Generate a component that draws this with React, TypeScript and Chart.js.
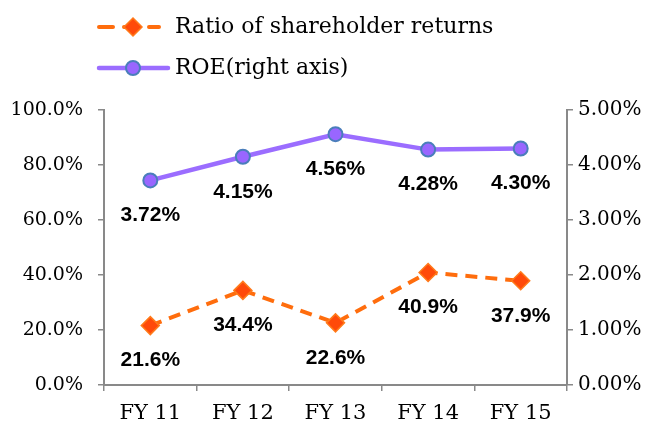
import React, { useEffect, useRef } from "react";
import { Chart, registerables } from "chart.js";

Chart.register(...registerables);

const categories = ["FY 11", "FY 12", "FY 13", "FY 14", "FY 15"];
const shareholderReturns = [21.6, 34.4, 22.6, 40.9, 37.9];
const roe = [3.72, 4.15, 4.56, 4.28, 4.3];
const seriesNames = ["Ratio of shareholder returns", "ROE(right axis)"];

const GRAY = "#898989";
const SERIF = "'DejaVu Serif', serif";

const legendPlugin = {
  id: "customLegend",
  afterDraw(chart: any) {
    const ctx = chart.ctx;
    const rows = [27, 68];
    chart.data.datasets.forEach((ds: any, i: number) => {
      const y = rows[i];
      ctx.save();
      ctx.strokeStyle = ds.borderColor;
      ctx.lineWidth = ds.borderWidth;
      ctx.lineCap = "round";
      if (ds.borderDash) ctx.setLineDash([14, 11]);
      ctx.beginPath();
      ctx.moveTo(99, y);
      ctx.lineTo(i === 0 ? 159 : 168, y);
      ctx.stroke();
      ctx.setLineDash([]);
      ctx.fillStyle = ds.pointBackgroundColor;
      ctx.strokeStyle = ds.pointBorderColor;
      ctx.lineWidth = ds.pointBorderWidth;
      const cx = 133;
      const r = ds.pointRadius;
      ctx.beginPath();
      if (ds.pointStyle === "rectRot") {
        ctx.moveTo(cx, y - r);
        ctx.lineTo(cx + r, y);
        ctx.lineTo(cx, y + r);
        ctx.lineTo(cx - r, y);
        ctx.closePath();
      } else {
        ctx.arc(cx, y, r, 0, Math.PI * 2);
      }
      ctx.fill();
      ctx.stroke();
      ctx.fillStyle = "#000";
      ctx.font = "22px " + SERIF;
      ctx.textBaseline = "middle";
      ctx.textAlign = "left";
      ctx.fillText(ds.label, 175, y);
      ctx.restore();
    });
  },
};

const dataLabelPlugin = {
  id: "dataLabels",
  afterDatasetsDraw(chart: any) {
    const ctx = chart.ctx;
    ctx.save();
    ctx.font = "bold 21px 'Liberation Sans', Arial, sans-serif";
    ctx.fillStyle = "#000";
    ctx.textAlign = "center";
    ctx.textBaseline = "middle";
    chart.data.datasets.forEach((ds: any, i: number) => {
      const meta = chart.getDatasetMeta(i);
      meta.data.forEach((pt: any, j: number) => {
        const v = ds.data[j];
        const txt = i === 0 ? v.toFixed(1) + "%" : v.toFixed(2) + "%";
        ctx.fillText(txt, pt.x, pt.y + 35);
      });
    });
    ctx.restore();
  },
};

export default function App() {
  const ref = useRef<HTMLCanvasElement>(null);
  useEffect(() => {
    if (!ref.current) return;
    const chart = new Chart(ref.current, {
      type: "line",
      data: {
        labels: categories,
        datasets: [
          {
            label: seriesNames[0],
            data: shareholderReturns,
            yAxisID: "y",
            borderColor: "#FF6D0D",
            borderWidth: 4,
            borderDash: [12, 8],
            pointStyle: "rectRot",
            pointRadius: 9,
            pointBackgroundColor: "#FF4A0A",
            pointBorderColor: "#FF7A1A",
            pointBorderWidth: 1.5,
            fill: false,
            tension: 0,
          },
          {
            label: seriesNames[1],
            data: roe,
            yAxisID: "y1",
            borderColor: "#9B6DFF",
            borderWidth: 4.5,
            pointStyle: "circle",
            pointRadius: 7,
            pointBackgroundColor: "#9966FF",
            pointBorderColor: "#4A7EBB",
            pointBorderWidth: 2,
            fill: false,
            tension: 0,
          },
        ],
      } as any,
      options: {
        animation: false,
        responsive: false,
        devicePixelRatio: 1,
        layout: { padding: { top: 110, left: 0, right: 0, bottom: 0 } },
        plugins: { legend: { display: false }, tooltip: { enabled: false } },
        scales: {
          x: {
            offset: true,
            grid: {
              display: true,
              drawOnChartArea: false,
              offset: true,
              tickLength: 6,
              color: GRAY,
              lineWidth: 1.5,
            },
            border: { color: GRAY, width: 2 },
            ticks: { color: "#000", font: { family: SERIF, size: 21 }, padding: 10 },
            afterFit: (s: any) => {
              s.height = 42;
            },
          },
          y: {
            position: "left",
            min: 0,
            max: 100,
            ticks: {
              stepSize: 20,
              color: "#000",
              font: { family: SERIF, size: 19 },
              padding: 15,
              callback: (v: any) => Number(v).toFixed(1) + "%",
            },
            grid: { drawOnChartArea: false, tickLength: 6, color: GRAY, lineWidth: 1.5 },
            border: { color: GRAY, width: 2 },
            afterFit: (s: any) => {
              s.width = 104;
            },
          },
          y1: {
            position: "right",
            min: 0,
            max: 5,
            ticks: {
              stepSize: 1,
              color: "#000",
              font: { family: SERIF, size: 20 },
              padding: 5,
              callback: (v: any) => Number(v).toFixed(2) + "%",
            },
            grid: { drawOnChartArea: false, tickLength: 6, color: GRAY, lineWidth: 1.5 },
            border: { color: GRAY, width: 2 },
            afterFit: (s: any) => {
              s.width = 82;
            },
          },
        },
      } as any,
      plugins: [legendPlugin, dataLabelPlugin],
    });
    return () => chart.destroy();
  }, []);
  return (
    <div style={{ position: "absolute", left: 0, top: 0, width: 649, height: 427, background: "#fff" }}>
      <canvas ref={ref} width={649} height={427} />
    </div>
  );
}
